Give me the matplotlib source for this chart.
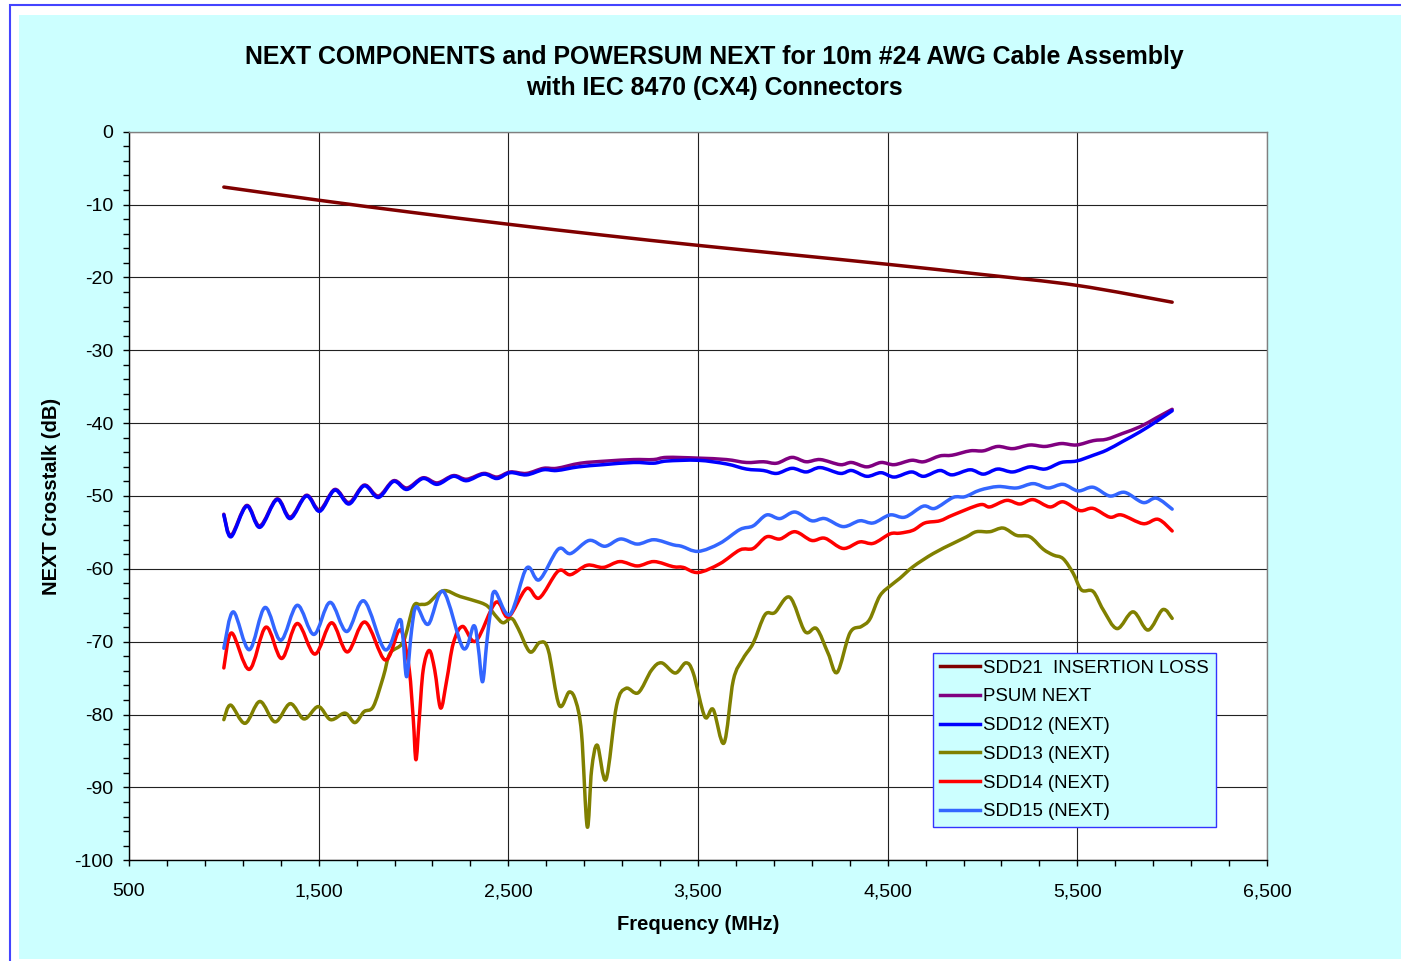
import numpy as np
import matplotlib
matplotlib.use("Agg")
import matplotlib.pyplot as plt
from matplotlib.path import Path
from matplotlib.patches import PathPatch, Rectangle
from matplotlib.lines import Line2D
from matplotlib.ticker import FuncFormatter

plt.rcParams['font.family'] = ['Liberation Sans', 'DejaVu Sans']
plt.rcParams['axes.unicode_minus'] = False

# ---- data (frequency in MHz, level in dB) ----
sdd21_f = [1000, 1500, 2000, 2500, 3000, 3500, 4000, 4500, 5000, 5500, 6000]
sdd21_db = [-7.6, -9.4, -11.1, -12.7, -14.2, -15.6, -16.9, -18.2, -19.6, -21.1, -23.4]

psum_f = [1000, 1038, 1120, 1190, 1280, 1350, 1435, 1505, 1585, 1660, 1740, 1815,
          1895, 1965, 2050, 2125, 2210, 2280, 2370, 2440, 2510, 2595, 2685, 2755,
          2880, 3020, 3160, 3265, 3335, 3500, 3650, 3755, 3845, 3915, 3995, 4070,
          4145, 4250, 4310, 4390, 4465, 4535, 4625, 4690, 4775, 4840, 4935, 5005,
          5080, 5160, 5250, 5330, 5415, 5495, 5585, 5655, 5740, 5830, 5915, 6000]
psum_db = [-52.5, -55.4, -51.3, -54.1, -50.4, -52.9, -49.9, -51.9, -49.1, -50.9, -48.5, -50.0,
           -47.9, -48.9, -47.5, -48.2, -47.2, -47.7, -46.9, -47.4, -46.7, -46.9, -46.2, -46.2,
           -45.5, -45.2, -45.0, -45.0, -44.7, -44.8, -45.0, -45.4, -45.3, -45.5, -44.7, -45.3,
           -45.0, -45.7, -45.4, -46.0, -45.4, -45.7, -45.1, -45.3, -44.5, -44.4, -43.8, -43.8,
           -43.2, -43.5, -43.0, -43.2, -42.8, -43.0, -42.4, -42.2, -41.4, -40.5, -39.3, -38.1]

sdd12_f = [1000, 1038, 1120, 1190, 1280, 1350, 1435, 1505, 1585, 1660, 1740, 1815,
           1895, 1965, 2050, 2125, 2210, 2280, 2370, 2440, 2510, 2595, 2685, 2755,
           2870, 3000, 3160, 3265, 3335, 3500, 3650, 3755, 3845, 3915, 3995, 4070,
           4145, 4250, 4310, 4390, 4465, 4535, 4625, 4690, 4775, 4840, 4935, 5005,
           5080, 5160, 5250, 5330, 5415, 5495, 5585, 5655, 5740, 5830, 5915, 6000]
sdd12_db = [-52.6, -55.6, -51.4, -54.3, -50.5, -53.1, -50.0, -52.1, -49.2, -51.1, -48.6, -50.2,
            -48.0, -49.1, -47.6, -48.4, -47.3, -47.9, -47.0, -47.6, -46.8, -47.1, -46.4, -46.5,
            -46.0, -45.7, -45.4, -45.5, -45.2, -45.1, -45.6, -46.3, -46.5, -46.9, -46.2, -46.7,
            -46.1, -46.9, -46.5, -47.3, -46.8, -47.4, -46.7, -47.3, -46.5, -47.1, -46.4, -47.0,
            -46.3, -46.7, -46.0, -46.3, -45.4, -45.2, -44.4, -43.7, -42.5, -41.2, -39.8, -38.3]

sdd13_f = [1000, 1036, 1112, 1190, 1270, 1350, 1423, 1498, 1563, 1639, 1691, 1739,
           1788, 1841, 1876, 1946, 1999, 2034, 2078, 2157, 2246, 2350, 2394, 2438,
           2473, 2517, 2552, 2614, 2666, 2710, 2768, 2821, 2856, 2886, 2916, 2939,
           2969, 3015, 3071, 3120, 3185, 3255, 3308, 3380, 3436, 3475, 3536, 3580,
           3637, 3686, 3738, 3791, 3853, 3905, 3984, 4064, 4125, 4186, 4234, 4301,
           4362, 4406, 4459, 4520, 4564, 4634, 4740, 4845, 4916, 4968, 5039, 5109,
           5179, 5250, 5320, 5373, 5425, 5478, 5522, 5583, 5636, 5710, 5794, 5873,
           5950, 6000]
sdd13_db = [-80.7, -78.7, -81.2, -78.2, -81.0, -78.5, -80.6, -78.9, -80.7, -79.8, -81.1, -79.6,
            -78.9, -74.8, -71.6, -70.0, -65.2, -64.9, -64.7, -63.0, -63.8, -64.6, -65.2, -66.6,
            -67.4, -66.8, -68.2, -71.4, -70.1, -71.1, -78.7, -76.9, -78.2, -82.6, -95.4, -87.6,
            -84.2, -88.9, -78.7, -76.4, -77.0, -73.9, -72.9, -74.3, -72.9, -74.3, -80.3, -79.3,
            -83.9, -75.3, -72.3, -70.2, -66.3, -66.0, -63.9, -68.6, -68.2, -71.6, -74.2, -68.8,
            -67.9, -66.9, -63.7, -62.2, -61.3, -59.7, -57.9, -56.5, -55.6, -54.9, -54.9, -54.4,
            -55.4, -55.6, -57.3, -58.1, -58.6, -60.6, -62.9, -63.1, -65.6, -68.2, -65.9, -68.4,
            -65.6, -66.8]

sdd14_f = [1000, 1041, 1134, 1222, 1305, 1387, 1480, 1568, 1651, 1744, 1850, 1920,
           1946, 1978, 1999, 2013, 2030, 2051, 2083, 2112, 2143, 2175, 2210, 2259,
           2329, 2434, 2500, 2596, 2663, 2763, 2828, 2916, 3001, 3088, 3180, 3268,
           3369, 3422, 3501, 3615, 3721, 3791, 3862, 3932, 4011, 4099, 4169, 4265,
           4353, 4424, 4512, 4564, 4634, 4696, 4775, 4845, 4986, 5039, 5127, 5197,
           5267, 5355, 5425, 5513, 5583, 5671, 5733, 5847, 5926, 6000]
sdd14_db = [-73.6, -68.8, -73.8, -68.0, -72.3, -67.5, -71.7, -67.4, -71.4, -67.3, -72.5, -68.6,
            -69.3, -73.9, -80.7, -86.2, -80.7, -73.9, -71.2, -73.9, -79.1, -75.3, -70.2, -67.9,
            -69.9, -64.6, -66.6, -62.7, -64.0, -60.3, -60.8, -59.5, -59.8, -59.0, -59.6, -59.0,
            -59.7, -59.8, -60.5, -59.3, -57.4, -57.2, -55.6, -55.9, -54.9, -56.1, -55.8, -57.2,
            -56.3, -56.5, -55.2, -55.1, -54.7, -53.7, -53.4, -52.6, -51.2, -51.5, -50.6, -51.1,
            -50.5, -51.5, -50.8, -52.0, -51.7, -52.9, -52.6, -53.8, -53.2, -54.8]

sdd15_f = [1000, 1050, 1134, 1217, 1300, 1387, 1475, 1560, 1648, 1739, 1850, 1925,
           1944, 1964, 1990, 2016, 2078, 2157, 2262, 2318, 2341, 2364, 2386, 2407,
           2429, 2508, 2596, 2663, 2763, 2828, 2926, 3009, 3092, 3180, 3268, 3369,
           3413, 3501, 3615, 3721, 3791, 3862, 3932, 4011, 4099, 4169, 4265, 4353,
           4424, 4512, 4591, 4687, 4749, 4845, 4907, 4986, 5082, 5179, 5267, 5346,
           5425, 5504, 5583, 5671, 5750, 5847, 5917, 6000]
sdd15_db = [-70.9, -65.9, -71.1, -65.3, -69.8, -65.0, -69.0, -64.6, -68.6, -64.4, -71.1, -67.0,
            -69.3, -74.8, -68.4, -65.2, -67.6, -63.1, -70.9, -67.8, -70.7, -75.5, -70.2, -65.7,
            -63.1, -66.3, -59.9, -61.5, -57.3, -57.9, -56.1, -56.9, -55.9, -56.6, -56.0, -56.7,
            -56.9, -57.6, -56.5, -54.6, -54.1, -52.6, -53.1, -52.2, -53.4, -53.1, -54.2, -53.4,
            -53.7, -52.6, -52.9, -51.4, -51.7, -50.2, -50.1, -49.2, -48.7, -48.9, -48.3, -48.9,
            -48.4, -49.3, -48.8, -50.0, -49.5, -50.9, -50.3, -51.8]

series = [
    ("SDD21  INSERTION LOSS", sdd21_f, sdd21_db, "#800000"),
    ("PSUM NEXT", psum_f, psum_db, "#800080"),
    ("SDD12 (NEXT)", sdd12_f, sdd12_db, "#0000FF"),
    ("SDD13 (NEXT)", sdd13_f, sdd13_db, "#808000"),
    ("SDD14 (NEXT)", sdd14_f, sdd14_db, "#FF0000"),
    ("SDD15 (NEXT)", sdd15_f, sdd15_db, "#3366FF"),
]


def smooth_path(xs, ys):
    # excel style smoothed line: cubic bezier through the data points
    pts = np.column_stack([xs, ys]).astype(float)
    n = len(pts)
    verts = [pts[0]]
    codes = [Path.MOVETO]
    for i in range(n - 1):
        p0 = pts[i - 1] if i > 0 else pts[i]
        p1, p2 = pts[i], pts[i + 1]
        p3 = pts[i + 2] if i + 2 < n else pts[i + 1]
        verts += [p1 + (p2 - p0) / 6, p2 - (p3 - p1) / 6, p2]
        codes += [Path.CURVE4] * 3
    return Path(verts, codes)


W, H = 1401, 961
fig = plt.figure(figsize=(W / 100, H / 100), dpi=100, facecolor="white")

# chart area: light cyan with blue outer frame
fig.add_artist(Rectangle((9.5 / W, -0.05), 1.1, 1 - 5.5 / H + 0.05, transform=fig.transFigure,
                         facecolor="white", edgecolor="#4444FF", lw=1.5, zorder=0))
fig.add_artist(Rectangle((19 / W, 1 - 958.7 / H), 1.1, (958.7 - 15) / H, transform=fig.transFigure,
                         facecolor="#CCFFFF", edgecolor="none", zorder=0))

ax = fig.add_axes([129 / W, 1 - 860.3 / H, (1267 - 129) / W, (860.3 - 131.7) / H])
ax.set_facecolor("white")

handles = []
for name, f, db, col in series:
    ax.add_patch(PathPatch(smooth_path(f, db), fill=False, edgecolor=col, lw=2.5,
                           capstyle="round", joinstyle="round", zorder=3))
    handles.append(Line2D([], [], color=col, lw=2.5, label=name))

ax.set_xlim(500, 6500)
ax.set_ylim(-100, 0)
ax.set_xticks(np.arange(500, 6501, 1000))
ax.set_xticks(np.arange(500, 6501, 200), minor=True)
ax.set_yticks(np.arange(-100, 1, 10))
ax.set_yticks(np.arange(-100, 1, 2), minor=True)
ax.xaxis.set_major_formatter(FuncFormatter(lambda v, p: f"{v:,.0f}"))
ax.tick_params(which="both", direction="out", colors="black", labelsize=14)
ax.tick_params(which="major", length=4.5, width=1)
ax.tick_params(which="minor", length=4, width=1)
ax.tick_params(axis="x", pad=12)
ax.tick_params(axis="y", pad=7)

ax.grid(True, which="major", color="#222222", lw=0.8)
ax.set_axisbelow(True)
for side in ["left", "bottom"]:
    ax.spines[side].set_color("black")
    ax.spines[side].set_linewidth(1)
for side in ["top", "right"]:
    ax.spines[side].set_color("#808080")
    ax.spines[side].set_linewidth(1)

ax.set_xlabel("Frequency (MHz)", fontsize=14.5, fontweight="bold", va="center")
ax.set_ylabel("NEXT Crosstalk (dB)", fontsize=14.5, fontweight="bold", va="center")
ax.xaxis.set_label_coords(0.5, (860.3 - 925) / 728.6)
ax.yaxis.set_label_coords((52 - 129) / 1138, 0.5)

fig.text(714.5 / W, 1 - 72.5 / H,
         "NEXT COMPONENTS and POWERSUM NEXT for 10m #24 AWG Cable Assembly\n"
         "with IEC 8470 (CX4) Connectors",
         ha="center", va="center", fontsize=17.9, fontweight="bold", linespacing=1.35)

leg = ax.legend(handles=handles, loc="upper left", bbox_to_anchor=(0.7065, 0.2845),
                borderaxespad=0, fontsize=13.4, frameon=True, fancybox=False,
                handlelength=2.2, handletextpad=0.15, labelspacing=0.63, borderpad=0.35)
leg.get_frame().set_facecolor("#CCFFFF")
leg.get_frame().set_edgecolor("#3333FF")
leg.get_frame().set_linewidth(1)
leg.get_frame().set_alpha(1)

fig.savefig("out.png", dpi=100, facecolor="white")
